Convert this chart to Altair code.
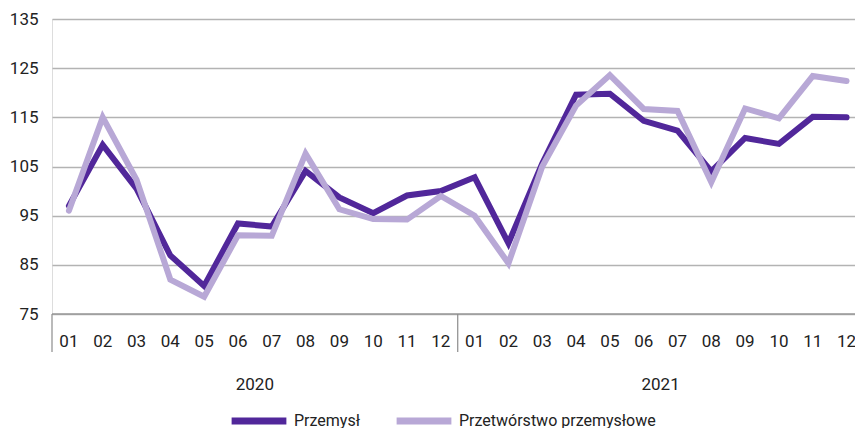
import altair as alt
import pandas as pd

months = ["01", "02", "03", "04", "05", "06", "07", "08", "09", "10", "11", "12"] * 2
years = ["2020", "2021"]
przemysl = [97.0, 109.4, 100.5, 86.9, 80.7, 93.4, 92.8, 104.1, 98.7, 95.5, 99.1, 100.0,
            102.8, 89.4, 105.6, 119.6, 119.8, 114.3, 112.3, 104.0, 110.8, 109.6, 115.1, 115.0]
przetworstwo = [96.0, 115.0, 102.3, 82.0, 78.5, 91.0, 90.9, 107.6, 96.3, 94.3, 94.2, 99.0,
                95.0, 85.3, 105.0, 117.4, 123.6, 116.7, 116.3, 101.8, 116.8, 114.8, 123.4, 122.4]
series_names = ["Przemysł", "Przetwórstwo przemysłowe"]
colors = ["#51279A", "#B8A8D6"]

FONT = "Roboto, sans-serif"
FS = 17

rows = []
for i, m in enumerate(months):
    rows.append({"idx": i, "month": m, "series": series_names[0], "value": przemysl[i]})
    rows.append({"idx": i, "month": m, "series": series_names[1], "value": przetworstwo[i]})
df = pd.DataFrame(rows)

W, H = 803, 295
xscale = alt.Scale(domain=[-0.5, 23.25], nice=False, zero=False)
yscale = alt.Scale(domain=[75, 135], nice=False, zero=False)

lines = alt.Chart(df).mark_line(strokeWidth=6, strokeCap="round").encode(
    x=alt.X("idx:Q", scale=xscale, axis=None),
    y=alt.Y("value:Q", scale=yscale,
            axis=alt.Axis(title=None, values=list(range(75, 136, 10)), grid=True,
                          gridColor="#B3B3B3", gridWidth=1.3, ticks=False, domain=False,
                          labelPadding=14, labelFontSize=FS, labelFont=FONT, labelColor="#222")),
    color=alt.Color("series:N", scale=alt.Scale(domain=series_names, range=colors),
                    sort=series_names,
                    legend=alt.Legend(title=None, orient="none", direction="horizontal",
                                      legendX=176, legendY=371, symbolType="stroke",
                                      symbolSize=3000, symbolStrokeWidth=7,
                                      labelFontSize=16, labelFont=FONT, labelColor="#222",
                                      labelLimit=400, columnPadding=22, labelOffset=4)),
    order="idx:Q",
)

month_df = pd.DataFrame({"idx": list(range(24)), "month": months})
month_text = alt.Chart(month_df).mark_text(fontSize=FS, font=FONT, color="#222", baseline="middle").encode(
    x=alt.X("idx:Q", scale=xscale),
    y=alt.value(H + 28),
    text="month:N",
)

sep_df = pd.DataFrame({"pos": [-0.5, 11.5]})
seps = alt.Chart(sep_df).mark_rule(color="#8C8C8C", strokeWidth=1.2).encode(
    x=alt.X("pos:Q", scale=xscale),
    y=alt.value(H),
    y2=alt.value(H + 38),
)

base_df = pd.DataFrame({"a": [-0.5], "b": [23.25]})
baseline = alt.Chart(base_df).mark_rule(color="#9A9A9A", strokeWidth=1.3).encode(
    x=alt.X("a:Q", scale=xscale), x2="b:Q", y=alt.value(H)
)

year_df = pd.DataFrame({"year": years, "pos": [5.5, 17.5]})
year_text = alt.Chart(year_df).mark_text(fontSize=FS, font=FONT, color="#222", baseline="middle").encode(
    x=alt.X("pos:Q", scale=xscale),
    y=alt.value(H + 71),
    text="year:N",
)

chart = alt.layer(lines, baseline, seps, month_text, year_text).properties(
    width=W, height=H,
    autosize=alt.AutoSizeParams(type="none"),
    padding={"left": 44, "top": 11, "right": 0, "bottom": 114},
).configure_view(stroke=None).configure(background="white")

chart.save("out.html", embed_options={"renderer": "svg", "actions": False})
